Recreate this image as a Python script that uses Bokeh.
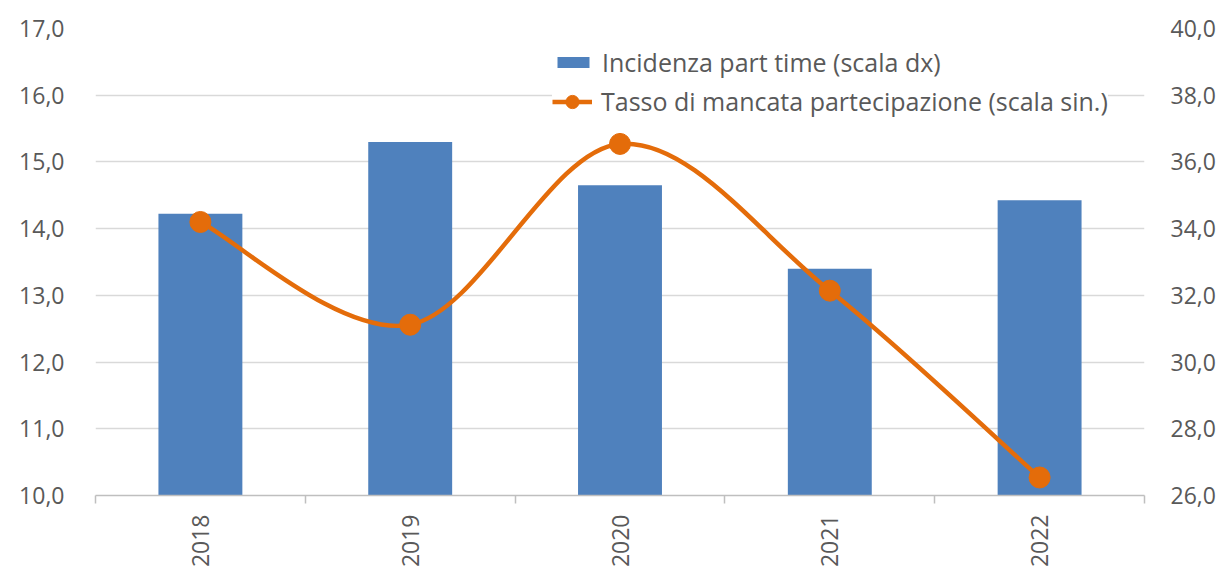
import math
from bokeh.plotting import figure
from bokeh.models import Range1d, LinearAxis, FixedTicker, Legend, LegendItem, ColumnDataSource
from bokeh.embed import file_html
from bokeh.resources import INLINE

# ---- data ----
years = ["2018", "2019", "2020", "2021", "2022"]
part_time = [34.45, 36.6, 35.3, 32.8, 34.85]          # right scale (bars)
mancata = [14.1, 12.56, 15.27, 13.07, 10.27]          # left scale (line)
left_ticks = [10, 11, 12, 13, 14, 15, 16, 17]
right_ticks = [26, 28, 30, 32, 34, 36, 38, 40]
label_bar = "Incidenza part time (scala dx)"
label_line = "Tasso di mancata partecipazione (scala sin.)"

FONT = "Open Sans"
FS = "23px"
LFS = "25px"
TXT = "#595959"
BAR_C = "#4F81BD"
LINE_C = "#E46C0A"

xs = [i + 0.5 for i in range(len(years))]

p = figure(width=1222, height=570, output_backend="svg", toolbar_location=None,
           x_range=Range1d(0, len(years)), y_range=Range1d(left_ticks[0], left_ticks[-1]),
           min_border_left=95, min_border_right=78, min_border_top=28, min_border_bottom=75)
p.outline_line_color = None
p.background_fill_color = "white"
p.border_fill_color = "white"
p.extra_y_ranges = {"right": Range1d(right_ticks[0], right_ticks[-1])}

# bars on right scale
src_b = ColumnDataSource(dict(x=xs, top=part_time))
bars = p.vbar(x="x", top="top", bottom=right_ticks[0], width=0.4, source=src_b,
              fill_color=BAR_C, line_color=None, y_range_name="right")

# smooth line (Catmull-Rom as cubic Bezier segments)
n = len(xs)
x0, y0, x1, y1, cx0, cy0, cx1, cy1 = [], [], [], [], [], [], [], []
for i in range(n - 1):
    pa = (xs[max(i - 1, 0)], mancata[max(i - 1, 0)])
    pb = (xs[i], mancata[i])
    pc = (xs[i + 1], mancata[i + 1])
    pd = (xs[min(i + 2, n - 1)], mancata[min(i + 2, n - 1)])
    x0.append(pb[0]); y0.append(pb[1]); x1.append(pc[0]); y1.append(pc[1])
    cx0.append(pb[0] + (pc[0] - pa[0]) / 6); cy0.append(pb[1] + (pc[1] - pa[1]) / 6)
    cx1.append(pc[0] - (pd[0] - pb[0]) / 6); cy1.append(pc[1] - (pd[1] - pb[1]) / 6)
curve = p.bezier(x0=x0, y0=y0, x1=x1, y1=y1, cx0=cx0, cy0=cy0, cx1=cx1, cy1=cy1,
                 line_color=LINE_C, line_width=4.5)
leg_line = p.line(x=[xs[0]], y=[mancata[0]], line_color=LINE_C, line_width=4.5)
pts = p.scatter(x=xs, y=mancata, size=21, fill_color=LINE_C, line_color=LINE_C)

# axes
fmt = lambda v: f"{v:.1f}".replace(".", ",")
ya = p.yaxis[0]
ya.ticker = FixedTicker(ticks=left_ticks)
ya.major_label_overrides = {v: fmt(v) for v in left_ticks}
ya.axis_line_color = None
ya.major_tick_line_color = None
ya.minor_tick_line_color = None
ya.major_label_standoff = 25
ya.major_label_text_font = FONT
ya.major_label_text_font_size = FS
ya.major_label_text_color = TXT

ra = LinearAxis(y_range_name="right", ticker=FixedTicker(ticks=right_ticks))
ra.major_label_overrides = {v: fmt(v) for v in right_ticks}
ra.axis_line_color = None
ra.major_tick_line_color = None
ra.minor_tick_line_color = None
ra.major_label_standoff = 20
ra.major_label_text_font = FONT
ra.major_label_text_font_size = FS
ra.major_label_text_color = TXT
p.add_layout(ra, "right")

xa = p.xaxis[0]
xa.ticker = FixedTicker(ticks=xs, minor_ticks=list(range(n + 1)))
xa.major_label_overrides = {x: y for x, y in zip(xs, years)}
xa.major_label_orientation = math.pi / 2
xa.major_tick_line_color = None
xa.minor_tick_in = 0
xa.minor_tick_out = 8
xa.minor_tick_line_color = "#BFBFBF"
xa.axis_line_color = "#BFBFBF"
xa.axis_line_width = 1.5
xa.minor_tick_line_width = 1.5
xa.major_label_standoff = 11
xa.major_label_text_font = FONT
xa.major_label_text_font_size = FS
xa.major_label_text_color = TXT

p.xgrid.grid_line_color = None
p.ygrid.grid_line_color = "#D9D9D9"
p.ygrid.grid_line_width = 1.5
p.ygrid.ticker = FixedTicker(ticks=left_ticks)

common = dict(orientation="vertical", background_fill_color="white", background_fill_alpha=1.0,
              border_line_color=None, glyph_width=40, label_standoff=9, spacing=0,
              padding=4, margin=0, label_text_font=FONT, label_text_font_size=LFS,
              label_text_color=TXT)
legend1 = Legend(items=[LegendItem(label=label_bar, renderers=[bars])],
                 location=(458, 416), glyph_height=14, **common)
legend2 = Legend(items=[LegendItem(label=label_line, renderers=[leg_line, pts])],
                 location=(457, 377), glyph_height=33, **common)
p.add_layout(legend1, "center")
p.add_layout(legend2, "center")

open("out.html", "w").write(file_html(p, INLINE))
